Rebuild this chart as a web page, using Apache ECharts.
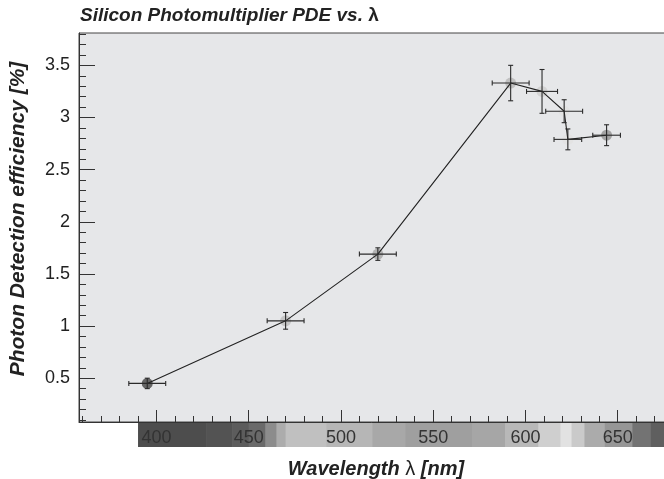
<!DOCTYPE html>
<html>
<head>
<meta charset="utf-8">
<script src="https://cdn.jsdelivr.net/npm/echarts@6/dist/echarts.min.js"></script>
<style>
  html, body { margin: 0; padding: 0; background: #fff; }
  #chart { width: 664px; height: 479px; }
</style>
</head>
<body>
<div id="chart"></div>
<script>
// measured points
var wavelength = [395, 470, 520, 592, 609, 621, 623, 644];
var pde = [0.45, 1.05, 1.69, 3.33, 3.25, 3.06, 2.79, 2.83];
var wavelengthErr = [10, 10, 10, 10, 8.4, 10, 7.5, 7.5];
var pdeErr = [0.05, 0.08, 0.06, 0.17, 0.21, 0.11, 0.1, 0.1];

// tick labels
var xMajor = [400, 450, 500, 550, 600, 650];
var yMajor = [0.5, 1, 1.5, 2, 2.5, 3, 3.5];

// grey-scale spectrum strip under the x axis: band edges (nm) and grey level
var spectrumEdges = [390, 427, 441, 450, 459, 465, 470, 492, 517, 535, 571, 589, 607, 619, 625, 632, 643, 658, 668, 680];
var spectrumGray = [77, 83, 92, 106, 140, 172, 192, 182, 168, 159, 166, 184, 207, 226, 202, 171, 150, 115, 95];

var X_MIN = 358, X_MAX = 680, Y_MIN = 0.08, Y_MAX = 3.81;

function rangeStep(from, to, step) {
    var out = [];
    for (var v = from; v <= to + 1e-9; v += step) out.push(Math.round(v * 1000) / 1000);
    return out;
}
var xMinor = rangeStep(360, 680, 10);
var yMinor = rangeStep(0.1, 3.8, 0.1);

function grayAt(nm) {
    for (var i = 0; i < spectrumGray.length; i++) {
        if (nm >= spectrumEdges[i] && nm < spectrumEdges[i + 1]) {
            var g = spectrumGray[i];
            return 'rgb(' + g + ',' + g + ',' + g + ')';
        }
    }
    return '#999';
}

var points = wavelength.map(function (w, i) { return [w, pde[i], wavelengthErr[i], pdeErr[i]]; });
var bands = spectrumGray.map(function (g, i) { return [spectrumEdges[i], spectrumEdges[i + 1], g]; });

var font = 'Liberation Sans, Arial, Helvetica, sans-serif';
var labelRich = {
    a: { fontFamily: font, fontSize: 20, fontWeight: 'bold', fontStyle: 'italic', color: '#222' },
    b: { fontFamily: font, fontSize: 20, color: '#222' }
};

var chart = echarts.init(document.getElementById('chart'));
chart.setOption({
    animation: false,
    title: {
        left: 75,
        top: 1,
        text: '{a|Silicon Photomultiplier PDE vs. }{b|λ}',
        textStyle: {
            rich: {
                a: { fontFamily: font, fontSize: 19, fontWeight: 'bold', fontStyle: 'italic', color: '#222' },
                b: { fontFamily: font, fontSize: 19, color: '#222' }
            }
        }
    },
    // plot frame runs past the right edge of the window, as in the original
    grid: [
        { left: 79, width: 594, top: 33, height: 389, outerBoundsMode: 'none', show: true, backgroundColor: '#e6e7e9', borderColor: '#444', borderWidth: 1 },
        { left: 79, width: 594, top: 423, height: 24, outerBoundsMode: 'none' }
    ],
    xAxis: [
        {
            type: 'value', gridIndex: 0, position: 'bottom', min: X_MIN, max: X_MAX, z: 10,
            name: '{a|Wavelength }{b|λ}{a| [nm]}',
            nameLocation: 'middle', nameGap: 37,
            nameTextStyle: { rich: labelRich },
            axisLine: { show: true, lineStyle: { color: '#333', width: 1 } },
            axisTick: { show: true, inside: true, length: 12, customValues: xMajor, lineStyle: { color: '#333' } },
            axisLabel: { customValues: xMajor, fontFamily: font, fontSize: 18, color: '#333', margin: 7 },
            splitLine: { show: false }
        },
        {
            type: 'value', gridIndex: 0, position: 'bottom', min: X_MIN, max: X_MAX,
            axisLine: { show: false },
            axisTick: { show: true, inside: true, length: 6, customValues: xMinor, lineStyle: { color: '#333' } },
            axisLabel: { show: false },
            splitLine: { show: false }
        },
        {
            type: 'value', gridIndex: 1, min: X_MIN, max: X_MAX, show: false
        }
    ],
    yAxis: [
        {
            type: 'value', gridIndex: 0, position: 'left', min: Y_MIN, max: Y_MAX,
            name: 'Photon Detection efficiency [%]',
            nameLocation: 'middle', nameGap: 50,
            nameTextStyle: { fontFamily: font, fontSize: 21, fontWeight: 'bold', fontStyle: 'italic', color: '#222', padding: [0, 0, 0, 17] },
            axisLine: { show: true, lineStyle: { color: '#333', width: 1 } },
            axisTick: { show: true, inside: true, length: 16, customValues: yMajor, lineStyle: { color: '#333' } },
            axisLabel: { customValues: yMajor, fontFamily: font, fontSize: 18, color: '#222', margin: 9 },
            splitLine: { show: false }
        },
        {
            type: 'value', gridIndex: 0, position: 'left', min: Y_MIN, max: Y_MAX,
            axisLine: { show: false },
            axisTick: { show: true, inside: true, length: 7, customValues: yMinor, lineStyle: { color: '#333' } },
            axisLabel: { show: false },
            splitLine: { show: false }
        },
        {
            type: 'value', gridIndex: 1, min: 0, max: 1, show: false
        }
    ],
    series: [
        {
            // spectrum strip
            type: 'custom', xAxisIndex: 2, yAxisIndex: 2, z: 1, silent: true,
            data: bands,
            renderItem: function (params, api) {
                var p0 = api.coord([api.value(0), 1]);
                var p1 = api.coord([api.value(1), 0]);
                var g = api.value(2);
                return {
                    type: 'rect',
                    shape: { x: p0[0], y: p0[1], width: p1[0] - p0[0] + 0.6, height: p1[1] - p0[1] },
                    style: { fill: 'rgb(' + g + ',' + g + ',' + g + ')' }
                };
            }
        },
        {
            type: 'scatter', xAxisIndex: 0, yAxisIndex: 0, z: 2,
            symbol: 'circle', symbolSize: 11,
            data: points.map(function (p) {
                return { value: [p[0], p[1]], itemStyle: { color: grayAt(p[0]), opacity: 0.85 } };
            })
        },
        {
            type: 'line', xAxisIndex: 0, yAxisIndex: 0, z: 3,
            showSymbol: false, symbol: 'none',
            lineStyle: { color: '#222', width: 1.1 },
            data: points.map(function (p) { return [p[0], p[1]]; })
        },
        {
            // error bars
            type: 'custom', xAxisIndex: 0, yAxisIndex: 0, z: 4,
            data: points,
            renderItem: function (params, api) {
                var x = api.value(0), y = api.value(1), ex = api.value(2), ey = api.value(3);
                var l = api.coord([x - ex, y]), r = api.coord([x + ex, y]);
                var t = api.coord([x, y + ey]), b = api.coord([x, y - ey]);
                var c = 2.5;
                var st = { stroke: '#2a2a2a', lineWidth: 1.1 };
                function ln(x1, y1, x2, y2) {
                    return { type: 'line', shape: { x1: x1, y1: y1, x2: x2, y2: y2 }, style: st };
                }
                return {
                    type: 'group',
                    children: [
                        ln(l[0], l[1], r[0], r[1]),
                        ln(t[0], t[1], b[0], b[1]),
                        ln(l[0], l[1] - c, l[0], l[1] + c),
                        ln(r[0], r[1] - c, r[0], r[1] + c),
                        ln(t[0] - c, t[1], t[0] + c, t[1]),
                        ln(b[0] - c, b[1], b[0] + c, b[1])
                    ]
                };
            }
        }
    ]
});
</script>
</body>
</html>
